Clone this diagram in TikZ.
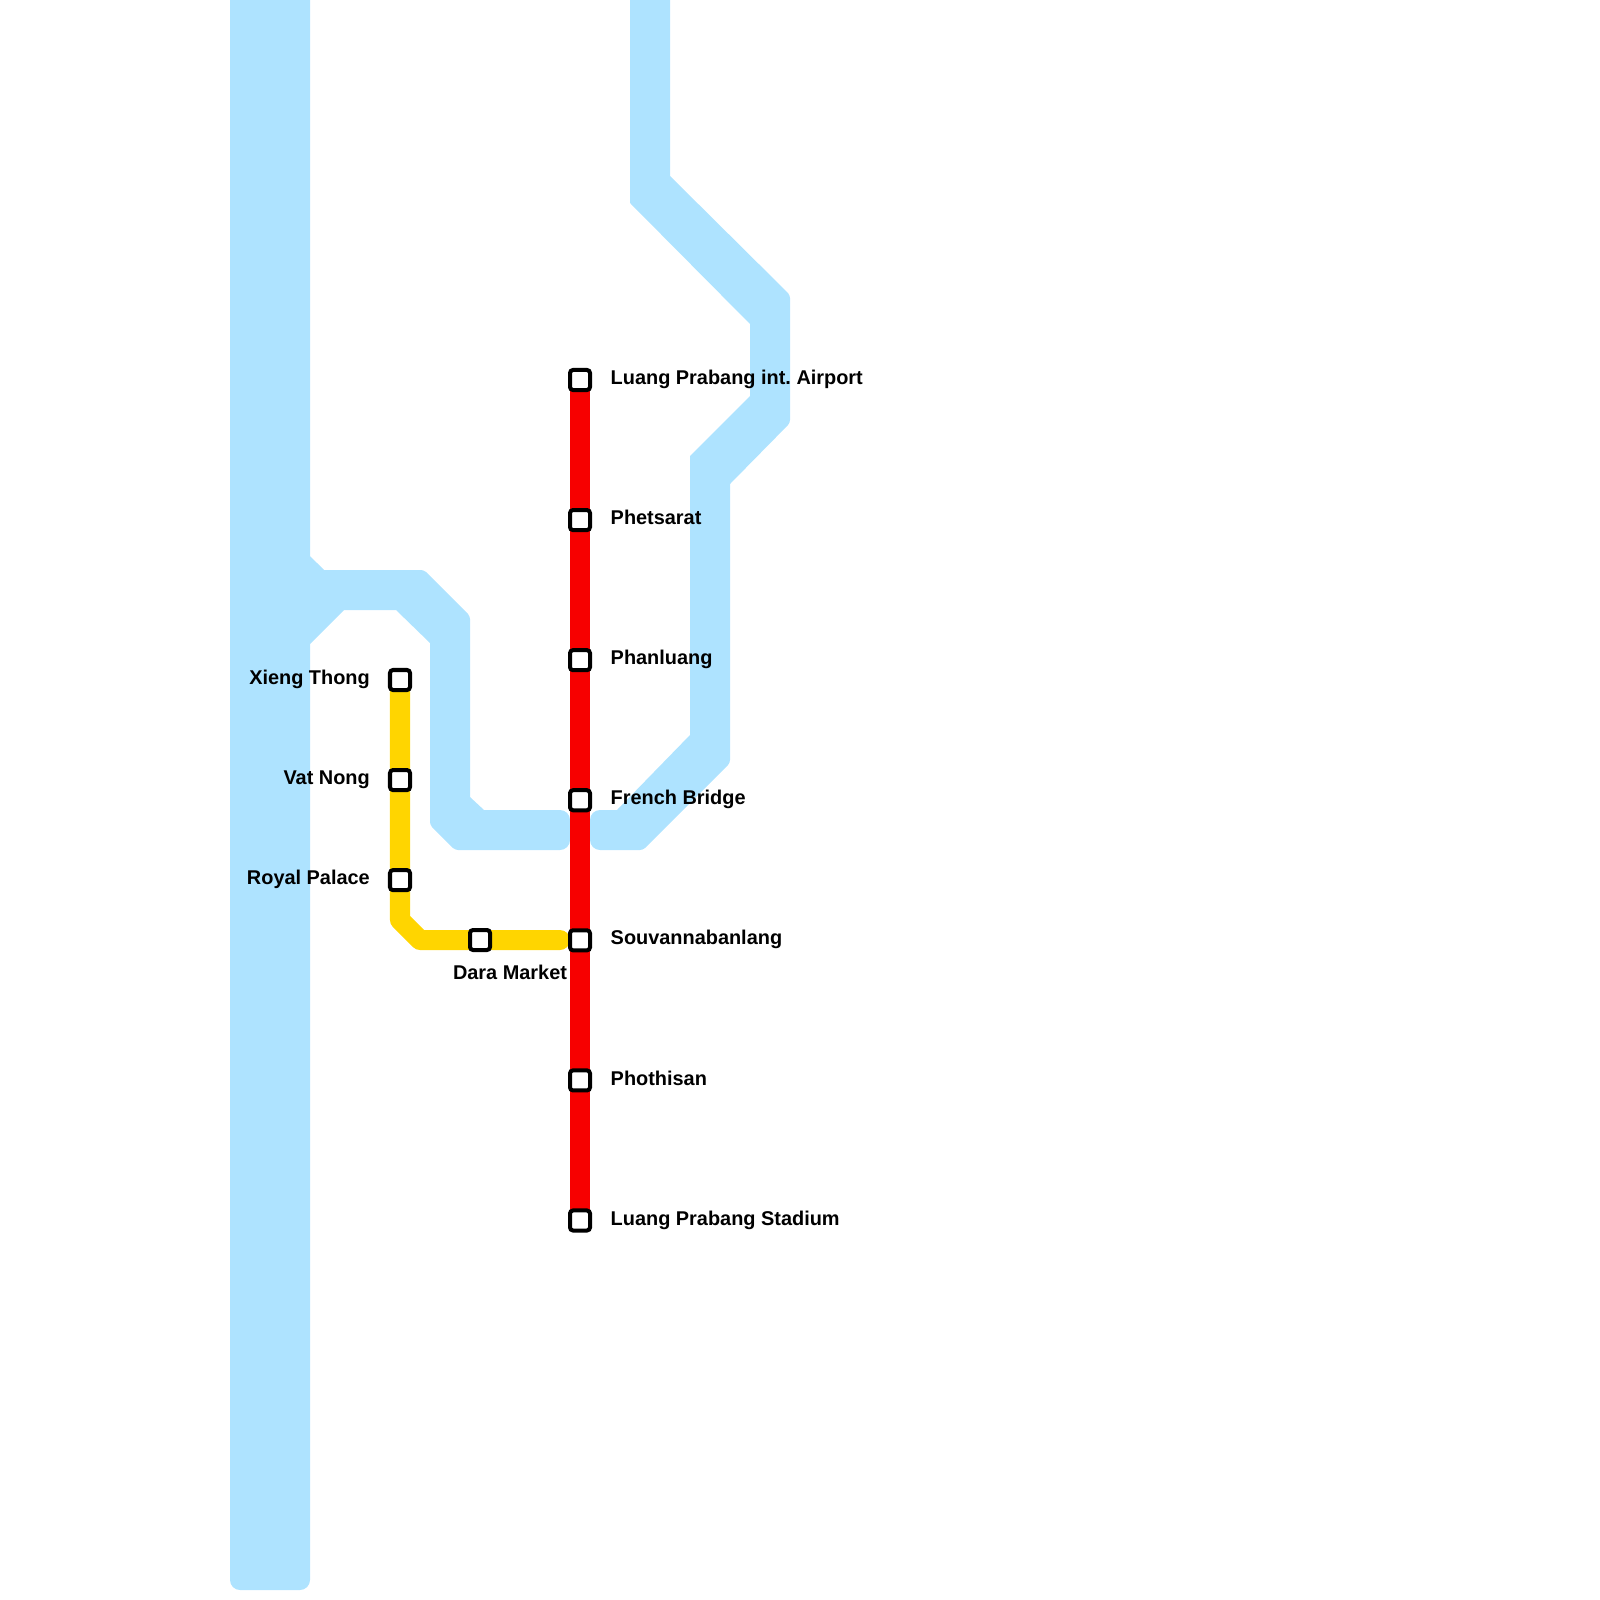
\documentclass[tikz,border=0pt]{standalone}
\usepackage{fontspec}
\setmainfont{Liberation Sans}
\usetikzlibrary{backgrounds,positioning}
\definecolor{watercol}{RGB}{174,227,255}
\definecolor{redline}{RGB}{247,0,0}
\definecolor{yellowline}{RGB}{255,213,0}

\begin{document}
\begin{tikzpicture}[x=0.01cm,y=-0.01cm,
  stn/.style={draw,line width=0.04cm,rounded corners=0.03cm,fill=white,minimum size=0.2cm,inner sep=0pt},
  stnlabel/.style={font=\fontsize{5.66pt}{6pt}\selectfont\bfseries\frenchspacing,inner sep=0pt,text height=0.143cm,text depth=0.05cm},
  water/.style={fill=watercol},
  endrnd/.style={rounded corners=0.1cm},
  bendrnd/.style={rounded corners=0.03cm},
  metro/.style={line width=0.2cm,line cap=round,line join=round}]
\useasboundingbox (0,0) rectangle (1600,1600);

\node[stn](airport) at (580,380){};
\node[stn,below=1.16cm of airport](phetsarat){};
\node[stn,below=1.16cm of phetsarat](phanluang){};
\node[stn,below=1.16cm of phanluang](french){};
\node[stn,below=1.16cm of french](souvanna){};
\node[stn,below=1.16cm of souvanna](phothisan){};
\node[stn,below=1.16cm of phothisan](stadium){};
\node[stn](xieng) at (400,680){};
\node[stn,below=0.76cm of xieng](vatnong){};
\node[stn,below=0.76cm of vatnong](palace){};
\node[stn](dara) at (480,940){};

\node[stnlabel,right=0.18cm of airport]{Luang Prabang int. Airport};
\node[stnlabel,right=0.18cm of phetsarat]{Phetsarat};
\node[stnlabel,right=0.18cm of phanluang]{Phanluang};
\node[stnlabel,right=0.18cm of french]{French Bridge};
\node[stnlabel,right=0.18cm of souvanna]{Souvannabanlang};
\node[stnlabel,right=0.18cm of phothisan]{Phothisan};
\node[stnlabel,right=0.18cm of stadium]{Luang Prabang Stadium};
\node[stnlabel,left=0.175cm of xieng]{Xieng Thong};
\node[stnlabel,left=0.175cm of vatnong]{Vat Nong};
\node[stnlabel,left=0.175cm of palace]{Royal Palace};
\node[stnlabel,below=0.125cm of dara,xshift=0.3cm]{Dara Market};

\coordinate (bendtop) at (400,920);
\coordinate (bendbot) at (420,940);
\coordinate (yellowend) at (560,940);

\begin{scope}[on background layer]
% river and its arm
\fill[water] (230,0) -- (310,0) -- (310,556) -- (324,570) [bendrnd] -- (424,570) -- (470,616)
  [sharp corners] -- (470,797) -- (484,810) [endrnd] -- (570,810) -- (570,850) [bendrnd] -- (455,850) -- (430,825)
  [sharp corners] -- (430,643) -- (396,610) -- (344,610) -- (310,644) [endrnd] -- (310,1590) -- (230,1590) [sharp corners] -- cycle;
\fill[water] (630,0) -- (670,0) -- (670,176) [bendrnd] -- (790,295) -- (790,423)
  [sharp corners] -- (730,484) [bendrnd] -- (730,763) -- (643,850) [endrnd] -- (590,850) -- (590,810)
  [sharp corners] -- (617,810) -- (690,735) -- (690,456) -- (750,396) -- (750,324) -- (630,203) -- cycle;

\draw[metro,draw=yellowline] (xieng) -- (vatnong) -- (palace) -- (bendtop) -- (bendbot) -- (dara) -- (yellowend);
\draw[metro,draw=redline] (airport) -- (phetsarat) -- (phanluang) -- (french) -- (souvanna) -- (phothisan) -- (stadium);
\end{scope}
\end{tikzpicture}
\end{document}
